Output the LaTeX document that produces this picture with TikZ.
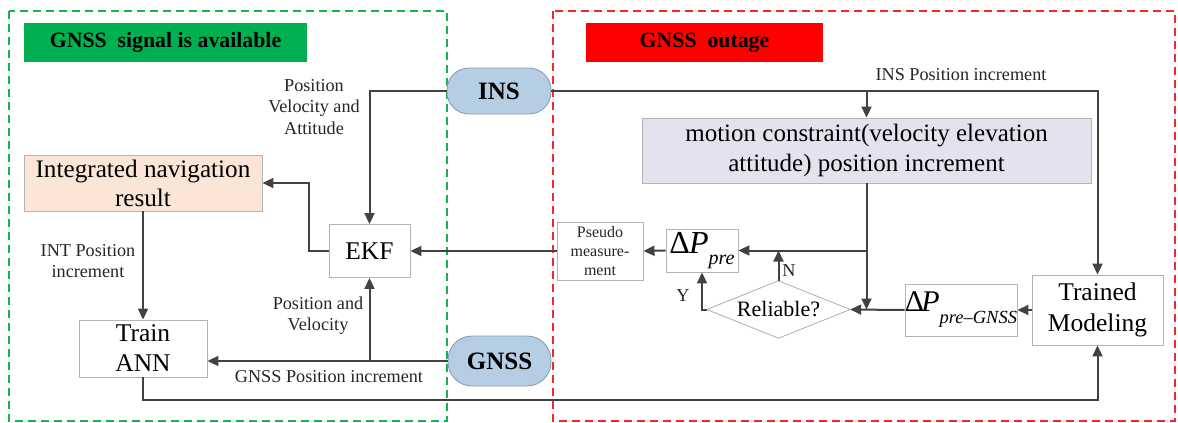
\documentclass[tikz,border=0pt]{standalone}
\usepackage{fontspec}
\setmainfont{Liberation Serif}
\usetikzlibrary{arrows.meta}
\definecolor{lineg}{RGB}{66,66,66}
\definecolor{boxg}{RGB}{180,180,180}
\definecolor{peach}{RGB}{251,229,214}
\definecolor{lav}{RGB}{228,226,238}
\definecolor{pill}{RGB}{181,206,228}
\definecolor{pilld}{RGB}{140,158,178}
\definecolor{gnssgreen}{RGB}{0,176,80}
\definecolor{outred}{RGB}{255,0,0}
\definecolor{dashgreen}{RGB}{20,180,80}
\definecolor{dashred}{RGB}{245,40,40}
\tikzset{
  box/.style={draw=boxg, line width=0.9pt, fill=white, align=center, inner sep=0pt},
  pillbox/.style={draw=pilld, line width=0.9pt, fill=pill, rounded corners=22pt, inner sep=0pt, font=\fontsize{25}{25}\selectfont\bfseries},
  conn/.style={draw=lineg, line width=2pt, -{Triangle[length=11pt,width=10pt]}},
  lab/.style={align=center, inner sep=0pt, font=\fontsize{18.2}{21.7}\selectfont, text=black!85},
  frame/.style={line width=1.6pt, dash pattern=on 8pt off 5pt},
  header/.style={inner sep=0pt, font=\fontsize{21.8}{21.8}\selectfont\bfseries}
}
\begin{document}
\begin{tikzpicture}[x=1pt,y=-1pt]
\useasboundingbox (0,0) rectangle (1178,423);
% frames
\draw[frame, draw=dashgreen] (9,11) rectangle (447,421);
\draw[frame, draw=dashred] (553,11) rectangle (1175,421);
% headers
\node[header, fill=gnssgreen, minimum width=283, minimum height=39] (hg) at (165.5,42.5) {GNSS\ \ signal is available};
\node[header, fill=outred, minimum width=237, minimum height=39] (hr) at (704.5,42.5) {GNSS\ \ outage};
% nodes
\node[pillbox, minimum width=104, minimum height=46] (ins) at (499,91) {INS};
\node[pillbox, minimum width=103, minimum height=50, rounded corners=24pt] (gnss) at (499.5,361) {GNSS};
\node[box, fill=peach, minimum width=238, minimum height=56, font=\fontsize{25.2}{29}\selectfont] (int) at (143,183) {Integrated navigation\\result};
\node[box, minimum width=81, minimum height=53, font=\fontsize{25.5}{25.5}\selectfont] (ekf) at (369.5,251) {EKF};
\node[box, minimum width=128, minimum height=57, font=\fontsize{25.5}{30}\selectfont] (train) at (143,348.5) {Train\\ANN};
\node[box, minimum width=131, minimum height=70, font=\fontsize{25.5}{31}\selectfont] (trained) at (1097.5,310) {Trained\\Modeling};
\node[box, fill=lav, minimum width=449, minimum height=65, font=\fontsize{25}{30}\selectfont] (motion) at (866.5,150.5) {motion constraint(velocity elevation\\attitude) position increment};
\node[box, minimum width=86, minimum height=58, font=\fontsize{16}{19}\selectfont, text=black!85] (pseudo) at (600,251) {Pseudo\\measure-\\ment};
\node[box, minimum width=72, minimum height=43] (pre) at (702,250.5) {{\fontsize{32}{32}\selectfont Δ\kern-1pt\textit{P}}\raisebox{-11pt}{\fontsize{20}{20}\selectfont\textit{pre}}};
\node[box, minimum width=112, minimum height=52] (preg) at (961,310) {{\fontsize{30}{30}\selectfont Δ\kern-3pt\textit{P}}\raisebox{-12pt}{\fontsize{18.5}{18.5}\selectfont\textit{pre–GNSS}}};
\node[inner sep=0pt, minimum width=143, minimum height=57, font=\fontsize{22}{22}\selectfont] (rel) at (778.5,309.5) {Reliable?};
\draw[draw=boxg, line width=0.9pt] (rel.west) -- (rel.north) -- (rel.east) -- (rel.south) -- cycle;
% connectors
\draw[conn] (ins.west) -| (ekf.north);
\draw[conn] (ekf.west) -- ++(-20,0) |- (int.east);
\draw[conn] (int.south) -- (train.north);
\draw[conn] (gnss.west) -- (gnss.west -| train.east);
\coordinate (j1) at (gnss.west -| ekf.south);
\draw[conn] (j1) -- (ekf.south);
\draw[conn] (train.south) -- ++(0,23) -| (trained.south);
\draw[conn] (ins.east) -| (trained.north);
\coordinate (j2) at (ins.east -| motion.north);
\draw[conn] (j2) -- (motion.north);
\coordinate (j3) at (motion.south |- rel.east);
\draw[conn] (motion.south) -- (j3);
\coordinate (j4) at (motion.south |- pre.east);
\draw[conn] (j4) -- (pre.east);
\draw[conn] (trained.west) -- (preg.east);
\draw[conn] (preg.west) -- (rel.east);
\draw[conn] (rel.north) -- (rel.north |- pre.east);
\draw[conn] (rel.west) -| (pre.south);
\draw[conn] (pre.west) -- (pseudo.east);
\draw[conn] (pseudo.west) -- (ekf.east);
% labels
\node[lab] (l1) at (314,107) {Position\\Velocity and\\Attitude};
\node[lab] (l2) at (88,261) {INT Position\\increment};
\node[lab] (l3) at (318,315.5) {Position and\\Velocity};
\node[lab] (l4) at (329,377) {GNSS Position increment};
\node[lab] (l5) at (961,75) {INS Position increment};
\node[lab] (l6) at (789,271) {N};
\node[lab] (l7) at (683,296) {Y};
\end{tikzpicture}
\end{document}
